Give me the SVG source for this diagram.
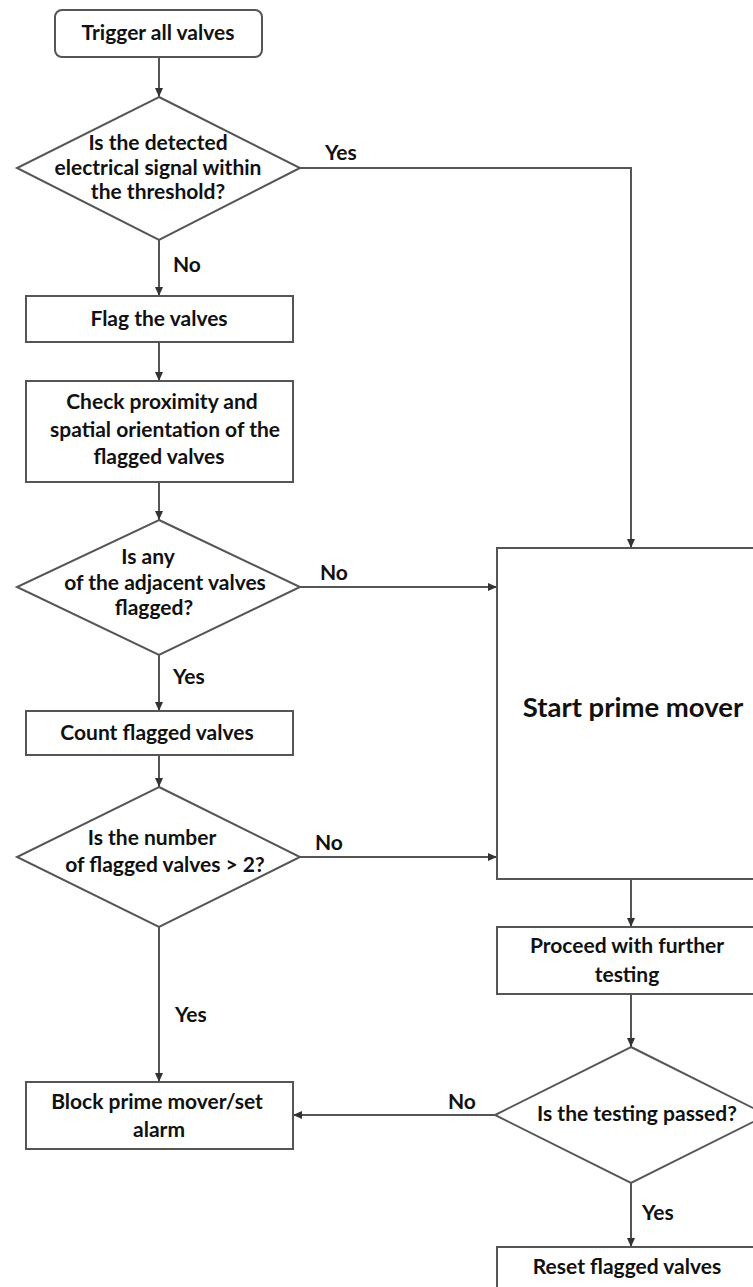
<svg xmlns="http://www.w3.org/2000/svg" width="753" height="1287" viewBox="0 0 753 1287">
  <style>
    .shape { fill: #ffffff; stroke: #555555; stroke-width: 2; }
    .wire { fill: none; stroke: #555555; stroke-width: 2; }
    text { font-family: Lato, "Open Sans", "Liberation Sans", sans-serif; font-weight: bold; font-size: 21px; fill: #111111; text-anchor: middle; }
    .lbl { text-anchor: start; }
    .big { font-size: 27.5px; }
  </style>
  <defs>
    <marker id="arrow" markerUnits="userSpaceOnUse" markerWidth="9" markerHeight="8" refX="9" refY="4" orient="auto">
      <path d="M0,0 L9,4 L0,8 z" fill="#333333"/>
    </marker>
  </defs>

  <rect width="753" height="1287" fill="#ffffff"/>

  <!-- connectors -->
  <g id="connectors">
    <line class="wire" x1="159" y1="57" x2="159" y2="97" marker-end="url(#arrow)"/>
    <line class="wire" x1="159" y1="240" x2="159" y2="296" marker-end="url(#arrow)"/>
    <line class="wire" x1="159" y1="342" x2="159" y2="381" marker-end="url(#arrow)"/>
    <line class="wire" x1="159" y1="482" x2="159" y2="520" marker-end="url(#arrow)"/>
    <line class="wire" x1="159" y1="655" x2="159" y2="711" marker-end="url(#arrow)"/>
    <line class="wire" x1="159" y1="755" x2="159" y2="787" marker-end="url(#arrow)"/>
    <line class="wire" x1="159" y1="927" x2="159" y2="1082" marker-end="url(#arrow)"/>
    <polyline class="wire" points="300,168 631,168 631,548" marker-end="url(#arrow)"/>
    <line class="wire" x1="300" y1="587" x2="497" y2="587" marker-end="url(#arrow)"/>
    <line class="wire" x1="300" y1="857" x2="497" y2="857" marker-end="url(#arrow)"/>
    <line class="wire" x1="631" y1="879" x2="631" y2="927" marker-end="url(#arrow)"/>
    <line class="wire" x1="631" y1="994" x2="631" y2="1047" marker-end="url(#arrow)"/>
    <line class="wire" x1="495" y1="1115" x2="293" y2="1115" marker-end="url(#arrow)"/>
    <line class="wire" x1="631" y1="1183" x2="631" y2="1247" marker-end="url(#arrow)"/>

    <text class="lbl" x="325" y="160">Yes</text>
    <text class="lbl" x="173" y="272">No</text>
    <text class="lbl" x="320" y="580">No</text>
    <text class="lbl" x="173" y="684">Yes</text>
    <text class="lbl" x="315" y="850">No</text>
    <text class="lbl" x="175" y="1022">Yes</text>
    <text class="lbl" x="448" y="1109">No</text>
    <text class="lbl" x="642" y="1220">Yes</text>
  </g>

  <!-- left column -->
  <g id="trigger">
    <rect class="shape" x="55" y="10" width="207" height="47" rx="7"/>
    <text x="158" y="40">Trigger all valves</text>
  </g>

  <g id="check-signal">
    <polygon class="shape" points="159,97 300,168 159,240 17,168"/>
    <text x="158" y="150">Is the detected</text>
    <text x="158" y="175">electrical signal within</text>
    <text x="158" y="199">the threshold?</text>
  </g>

  <g id="flag">
    <rect class="shape" x="26" y="296" width="267" height="46"/>
    <text x="159" y="326">Flag the valves</text>
  </g>

  <g id="proximity">
    <rect class="shape" x="26" y="381" width="267" height="101"/>
    <text x="162" y="409">Check proximity and</text>
    <text x="165" y="437">spatial orientation of the</text>
    <text x="159" y="464">flagged valves</text>
  </g>

  <g id="adjacent">
    <polygon class="shape" points="159,520 300,587 159,655 17,587"/>
    <text x="148" y="564">Is any</text>
    <text x="165" y="590">of the adjacent valves</text>
    <text x="154" y="615">flagged?</text>
  </g>

  <g id="count">
    <rect class="shape" x="26" y="711" width="267" height="44"/>
    <text x="157" y="740">Count flagged valves</text>
  </g>

  <g id="number">
    <polygon class="shape" points="159,787 300,857 159,927 17,857"/>
    <text x="152" y="845">Is the number</text>
    <text x="165" y="872">of flagged valves &gt; 2?</text>
  </g>

  <g id="block">
    <rect class="shape" x="26" y="1082" width="267" height="67"/>
    <text x="157" y="1109">Block prime mover/set</text>
    <text x="159" y="1137">alarm</text>
  </g>

  <!-- right column -->
  <g id="start">
    <rect class="shape" x="497" y="548" width="270" height="331"/>
    <text class="big" x="633" y="717">Start prime mover</text>
  </g>

  <g id="proceed">
    <rect class="shape" x="497" y="927" width="270" height="67"/>
    <text x="627" y="953">Proceed with further</text>
    <text x="627" y="982">testing</text>
  </g>

  <g id="testing">
    <polygon class="shape" points="631,1047 767,1115 631,1183 495,1115"/>
    <text x="637" y="1121">Is the testing passed?</text>
  </g>

  <g id="reset">
    <rect class="shape" x="497" y="1247" width="270" height="60"/>
    <text x="627" y="1274">Reset flagged valves</text>
  </g>
</svg>
